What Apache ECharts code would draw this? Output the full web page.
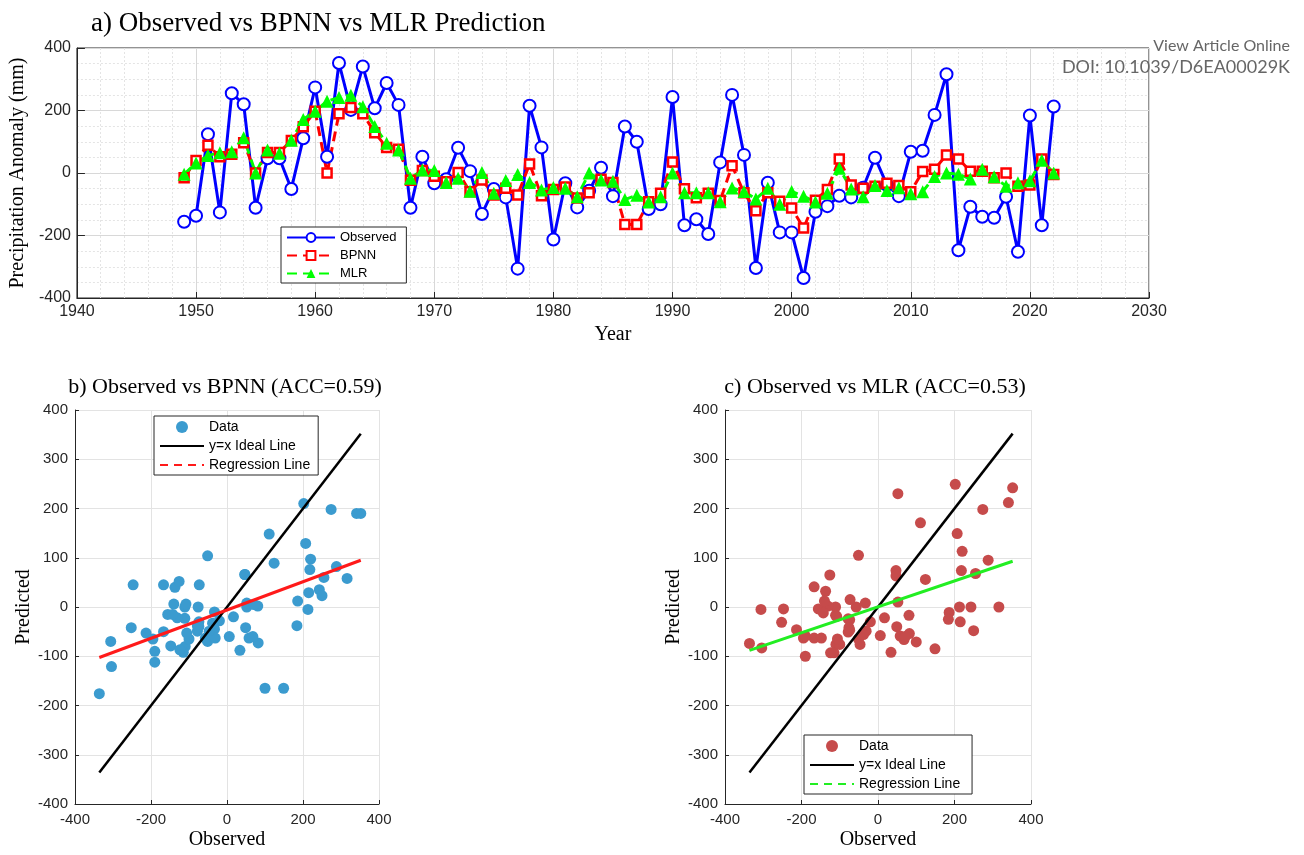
<!DOCTYPE html>
<html>
<head>
<meta charset="utf-8"/>
<title>Observed vs BPNN vs MLR</title>
<script src="https://cdn.jsdelivr.net/npm/echarts@6/dist/echarts.min.js"></script>
<style>
    html, body { margin: 0; padding: 0; background: #fff; }
    #main { width: 1304px; height: 855px; }
</style>
</head>
<body>
<div id="main"></div>
<script>
// years 1949..2022
var years = [];
for (var y = 1949; y <= 2022; y++) years.push(y);

var observed = [-156, -137, 124, -126, 255, 220, -111, 47, 47, -51,
    111, 274, 52, 352, 202, 341, 207, 288, 218, -111,
    52, -33, -20, 81, 6, -131, -51, -78, -306, 215,
    82, -213, -33, -110, -57, 17, -74, 149, 100, -115,
    -100, 243, -167, -148, -195, 34, 250, 58, -304, -31,
    -190, -190, -336, -124, -106, -73, -78, -47, 49, -38,
    -74, 68, 71, 186, 316, -247, -108, -140, -143, -76,
    -252, 184, -167, 213];

var bpnn = [-15, 40, 89, 52, 60, 97, 0, 66, 66, 104,
    148, 198, 0, 190, 210, 190, 129, 82, 76, -23,
    8, -10, -28, 2, -60, -22, -70, -49, -70, 29,
    -73, -53, -45, -80, -63, -20, -30, -165, -165, -92,
    -65, 35, -50, -79, -65, -88, 23, -63, -121, -63,
    -90, -112, -176, -87, -53, 45, -38, -49, -42, -33,
    -40, -60, 5, 12, 58, 45, 6, 6, -15, 0,
    -42, -38, 45, -5];

var mlr = [-4, 32, 56, 65, 68, 113, 0, 74, 63, 105,
    171, 198, 230, 242, 249, 212, 149, 95, 74, -17,
    10, 8, -30, -17, -58, 2, -65, -24, -5, -30,
    -54, -46, -49, -76, 0, -22, -26, -85, -71, -93,
    -76, 0, -63, -63, -63, -92, -48, -59, -83, -49,
    -100, -59, -74, -93, -65, 15, -51, -76, -40, -56,
    -47, -66, -60, -11, 0, -4, -19, 12, -12, -42,
    -31, -25, 41, 0];

var yearTicks = [1940, 2030, 10];
var anomTicks = [-400, 400, 200];
var scatTicksX = [-400, 400, 200];
var scatTicksY = [-400, 400, 100];

var SERIF = '"Liberation Serif", "Times New Roman", serif';
var SANS = '"Liberation Sans", Arial, sans-serif';
var INK = '#262626';

function pairs(xs, ys) {
    var out = [];
    for (var i = 0; i < xs.length; i++) out.push([xs[i], ys[i]]);
    return out;
}

// least squares fit, drawn over the observed range
function fitLine(xs, ys) {
    var n = xs.length, sx = 0, sy = 0, sxx = 0, sxy = 0;
    for (var i = 0; i < n; i++) {
        sx += xs[i]; sy += ys[i]; sxx += xs[i] * xs[i]; sxy += xs[i] * ys[i];
    }
    var b = (n * sxy - sx * sy) / (n * sxx - sx * sx);
    var a = (sy - b * sx) / n;
    var lo = Math.min.apply(null, xs), hi = Math.max.apply(null, xs);
    return [[lo, a + b * lo], [hi, a + b * hi]];
}

var obsMin = Math.min.apply(null, observed), obsMax = Math.max.apply(null, observed);
var idealLine = [[obsMin, obsMin], [obsMax, obsMax]];

function scatterAxes(idx) {
    return {
        x: {
            type: 'value', gridIndex: idx, min: scatTicksX[0], max: scatTicksX[1], interval: scatTicksX[2],
            name: 'Observed', nameLocation: 'middle', nameGap: 26,
            nameTextStyle: { fontFamily: SERIF, fontSize: 20, color: '#000' },
            axisLine: { show: true, onZero: false, lineStyle: { color: INK, width: 1 } },
            axisTick: { show: true, inside: true, length: 4, lineStyle: { color: INK } },
            axisLabel: { fontFamily: SANS, fontSize: 15, color: INK, margin: 8 },
            splitLine: { show: true, lineStyle: { color: '#e3e3e3', width: 1 } }
        },
        y: {
            type: 'value', gridIndex: idx, min: scatTicksY[0], max: scatTicksY[1], interval: scatTicksY[2],
            name: 'Predicted', nameLocation: 'middle', nameGap: 36, nameRotate: 90,
            nameTextStyle: { fontFamily: SERIF, fontSize: 20, color: '#000' },
            axisLine: { show: true, onZero: false, lineStyle: { color: INK, width: 1 } },
            axisTick: { show: true, inside: true, length: 4, lineStyle: { color: INK } },
            axisLabel: { fontFamily: SANS, fontSize: 15, color: INK, margin: 7 },
            splitLine: { show: true, lineStyle: { color: '#e3e3e3', width: 1 } }
        }
    };
}

var sb = scatterAxes(1), sc = scatterAxes(2);

var legendBase = {
    orient: 'vertical',
    backgroundColor: '#fff',
    borderColor: INK,
    borderWidth: 1,
    borderRadius: 0,
    itemGap: 5,
    textStyle: { fontFamily: SANS, color: '#000' }
};

// line-only legend entries: hide the marker dot
var noDot = { color: 'transparent', borderWidth: 0 };

var chart = echarts.init(document.getElementById('main'));

var option = {
    animation: false,
    backgroundColor: '#fff',
    title: [
        { text: 'a) Observed vs BPNN vs MLR Prediction', left: 86, top: 5,
          textStyle: { fontFamily: SERIF, fontSize: 27, fontWeight: 'normal', color: '#000' } },
        { text: 'b) Observed vs BPNN (ACC=0.59)', left: 220, top: 371, textAlign: 'center',
          textStyle: { fontFamily: SERIF, fontSize: 22, fontWeight: 'normal', color: '#000' } },
        { text: 'c) Observed vs MLR (ACC=0.53)', left: 870, top: 371, textAlign: 'center',
          textStyle: { fontFamily: SERIF, fontSize: 22, fontWeight: 'normal', color: '#000' } }
    ],
    graphic: [
        { type: 'text', right: 14, top: 38, z: 100,
          style: { text: 'View Article Online', fontFamily: 'Lato, "Open Sans", sans-serif', fontSize: 16, fill: '#666' } },
        { type: 'text', right: 14, top: 58, z: 100,
          style: { text: 'DOI: 10.1039/D6EA00029K', fontFamily: 'Lato, "Open Sans", sans-serif', fontSize: 18, fill: '#666' } }
    ],
    legend: [
        Object.assign({}, legendBase, {
            left: 281, top: 227, padding: [4, 10, 3, 5],
            itemWidth: 48, itemHeight: 11,
            textStyle: { fontFamily: SANS, fontSize: 13, color: '#000' },
            data: ['Observed', 'BPNN', 'MLR']
        }),
        Object.assign({}, legendBase, {
            left: 154, top: 416, padding: [4, 8, 3, 5],
            itemWidth: 44, itemHeight: 12,
            textStyle: { fontFamily: SANS, fontSize: 14, color: '#000' },
            data: ['Data',
                { name: 'y=x Ideal Line', itemStyle: noDot },
                { name: 'Regression Line', itemStyle: noDot, lineStyle: { type: [8, 6] } }]
        }),
        Object.assign({}, legendBase, {
            left: 804, top: 735, padding: [4, 8, 3, 5],
            itemWidth: 44, itemHeight: 12,
            textStyle: { fontFamily: SANS, fontSize: 14, color: '#000' },
            data: ['Data ',
                { name: 'y=x Ideal Line ', itemStyle: noDot },
                { name: 'Regression Line ', itemStyle: noDot, lineStyle: { type: [8, 6] } }]
        })
    ],
    grid: [
        { left: 74, top: 48, width: 1075, height: 250, show: true, borderColor: INK, borderWidth: 1, backgroundColor: 'transparent' },
        { left: 75, top: 410, width: 304, height: 394 },
        { left: 725, top: 410, width: 306, height: 394 }
    ],
    xAxis: [
        {
            type: 'value', gridIndex: 0, min: yearTicks[0], max: yearTicks[1], interval: yearTicks[2],
            name: 'Year', nameLocation: 'middle', nameGap: 27,
            nameTextStyle: { fontFamily: SERIF, fontSize: 20, color: '#000' },
            axisLine: { show: true, onZero: false, lineStyle: { color: INK } },
            axisTick: { show: true, inside: true, length: 6, lineStyle: { color: INK } },
            axisLabel: { fontFamily: SANS, fontSize: 16, color: INK, margin: 6,
                         formatter: function (v) { return String(v); } },
            splitLine: { show: true, lineStyle: { color: '#d8d8d8', width: 1 } },
            minorTick: { show: false, splitNumber: 5 },
            minorSplitLine: { show: true, lineStyle: { color: '#e4e4e4', type: [2, 2] } }
        },
        sb.x, sc.x
    ],
    yAxis: [
        {
            type: 'value', gridIndex: 0, min: anomTicks[0], max: anomTicks[1], interval: anomTicks[2],
            name: 'Precipitation Anomaly (mm)', nameLocation: 'middle', nameGap: 44, nameRotate: 90,
            nameTextStyle: { fontFamily: SERIF, fontSize: 20, color: '#000' },
            axisLine: { show: true, onZero: false, lineStyle: { color: INK } },
            axisTick: { show: true, inside: true, length: 8, lineStyle: { color: INK } },
            axisLabel: { fontFamily: SANS, fontSize: 16, color: INK, margin: 6 },
            splitLine: { show: true, lineStyle: { color: '#d8d8d8', width: 1 } },
            minorTick: { show: false, splitNumber: 4 },
            minorSplitLine: { show: true, lineStyle: { color: '#e4e4e4', type: [2, 2] } }
        },
        sb.y, sc.y
    ],
    series: [
        {
            name: 'Observed', type: 'line', xAxisIndex: 0, yAxisIndex: 0,
            data: pairs(years, observed),
            symbol: 'emptyCircle', symbolSize: 12,
            color: '#0000ff',
            lineStyle: { color: '#0000ff', width: 3 },
            itemStyle: { color: '#0000ff', borderWidth: 2.5 }
        },
        {
            name: 'BPNN', type: 'line', xAxisIndex: 0, yAxisIndex: 0,
            data: pairs(years, bpnn),
            symbol: 'rect', symbolSize: 9,
            color: '#ff0000',
            lineStyle: { color: '#ff0000', width: 3, type: [10, 6] },
            itemStyle: { color: '#ffffff', borderColor: '#ff0000', borderWidth: 2.5 }
        },
        {
            name: 'MLR', type: 'line', xAxisIndex: 0, yAxisIndex: 0,
            data: pairs(years, mlr),
            symbol: 'triangle', symbolSize: 13,
            color: '#00ff00',
            lineStyle: { color: '#00ff00', width: 3, type: [10, 6] },
            itemStyle: { color: '#00ff00' }
        },
        // b) BPNN scatter
        {
            name: 'Data', type: 'scatter', xAxisIndex: 1, yAxisIndex: 1,
            data: pairs(observed, bpnn), symbolSize: 11,
            itemStyle: { color: '#3b9bcf', opacity: 1 }
        },
        {
            name: 'y=x Ideal Line', type: 'line', xAxisIndex: 1, yAxisIndex: 1,
            data: idealLine, symbol: 'none', color: '#000',
            lineStyle: { color: '#000', width: 2.5 }
        },
        {
            name: 'Regression Line', type: 'line', xAxisIndex: 1, yAxisIndex: 1,
            data: fitLine(observed, bpnn), symbol: 'none', color: '#ff1a1a',
            lineStyle: { color: '#ff1a1a', width: 3 }
        },
        // c) MLR scatter
        {
            name: 'Data ', type: 'scatter', xAxisIndex: 2, yAxisIndex: 2,
            data: pairs(observed, mlr), symbolSize: 11,
            itemStyle: { color: '#c64b4b', opacity: 1 }
        },
        {
            name: 'y=x Ideal Line ', type: 'line', xAxisIndex: 2, yAxisIndex: 2,
            data: idealLine, symbol: 'none', color: '#000',
            lineStyle: { color: '#000', width: 2.5 }
        },
        {
            name: 'Regression Line ', type: 'line', xAxisIndex: 2, yAxisIndex: 2,
            data: fitLine(observed, mlr), symbol: 'none', color: '#22ee22',
            lineStyle: { color: '#22ee22', width: 3 }
        }
    ]
};

chart.setOption(option);
</script>
</body>
</html>
